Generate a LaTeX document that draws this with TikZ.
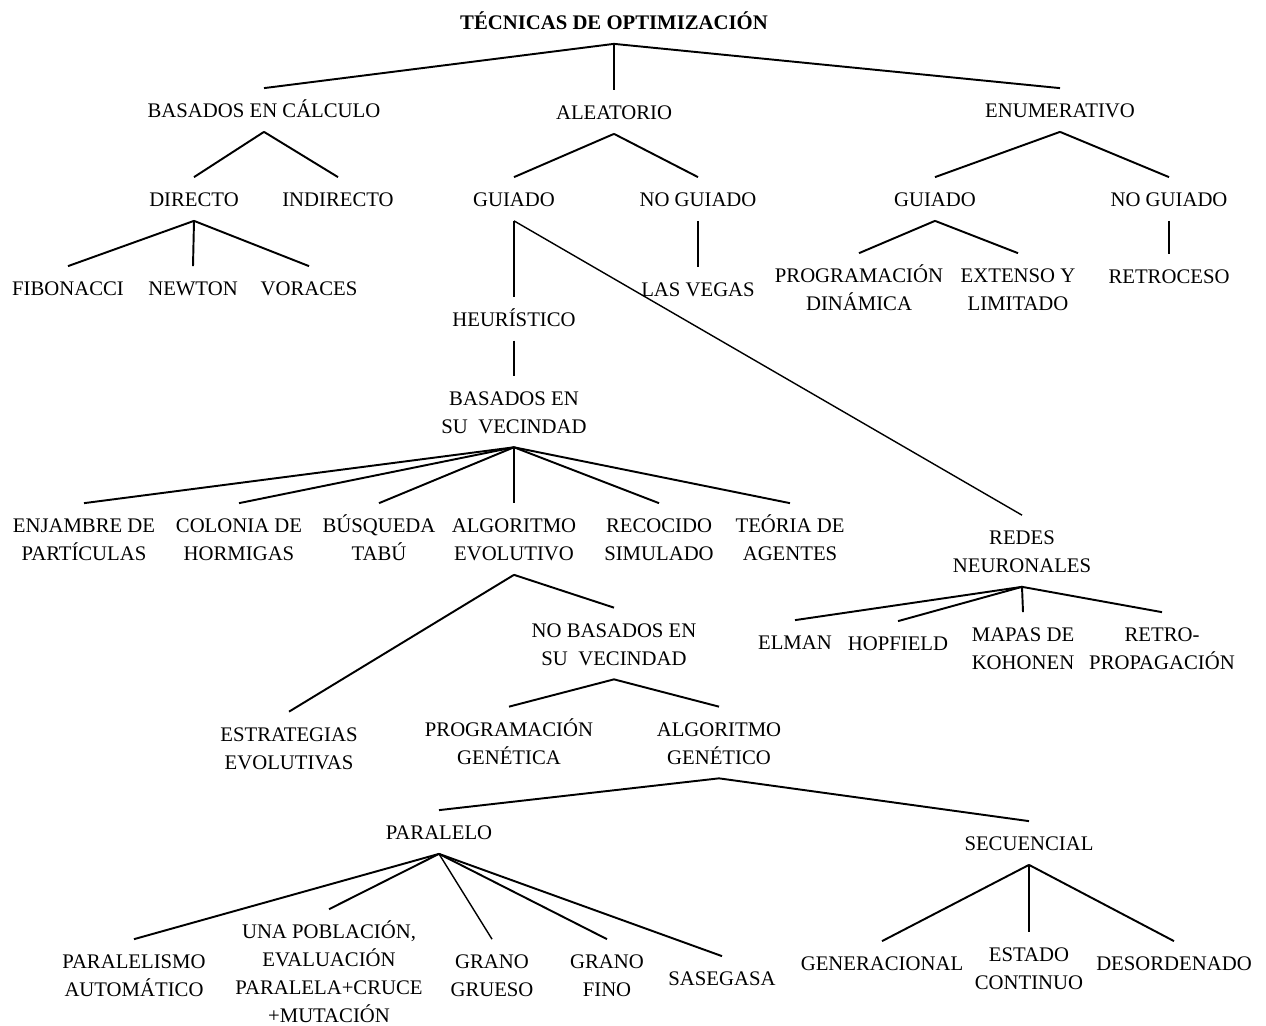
\documentclass[tikz,border=0pt]{standalone}
\usepackage{fontspec}
\setmainfont{Liberation Serif}
\usetikzlibrary{positioning}

\begin{document}
\begin{tikzpicture}[
    x=0.02cm, y=-0.02cm,
    term/.style={inner sep=0pt, align=center,
                 font=\fontsize{11.8}{15.9}\selectfont,
                 text height=16.6pt, text depth=7.9pt},
    term2/.style={term, text height=32.5pt},
    term4/.style={term, text height=64.3pt},
    rama/.style={line width=1.1pt},
    ramafina/.style={line width=0.8pt},
]
\useasboundingbox (0,0) rectangle (1266,1026);

% nivel 0 y 1
\node[term, font=\fontsize{11.8}{15.9}\selectfont\bfseries] (titulo) at (614,22) {TÉCNICAS DE OPTIMIZACIÓN};
\node[term] (calculo)   at (264,110)  {BASADOS EN CÁLCULO};
\node[term] (aleatorio) at (614,112)  {ALEATORIO};
\node[term] (enumer)    at (1060,110) {ENUMERATIVO};

% basados en calculo
\node[term] (directo)   at (194,199) {DIRECTO};
\node[term] (indirecto) at (338,199) {INDIRECTO};
\node[term] (fibonacci) at (68,288)  {FIBONACCI};
\node[term] (newton)    at (193,288) {NEWTON};
\node[term] (voraces)   at (309,288) {VORACES};

% aleatorio
\node[term] (guiado)   at (514,199) {GUIADO};
\node[term] (noguiado) at (698,199) {NO GUIADO};
\node[term, below=0.92cm of noguiado] (vegas)  {LAS VEGAS};
\node[term, below=1.52cm of guiado]   (heur)   {HEURÍSTICO};
\node[term2, below=0.7cm of heur]     (vecin)  {BASADOS EN\\SU~~VECINDAD};

\node[term2] (enjambre) at (84,539)  {ENJAMBRE DE\\PARTÍCULAS};
\node[term2] (colonia)  at (239,539) {COLONIA DE\\HORMIGAS};
\node[term2] (tabu)     at (379,539) {BÚSQUEDA\\TABÚ};
\node[term2] (evolut)   at (514,539) {ALGORITMO\\EVOLUTIVO};
\node[term2] (recocido) at (659,539) {RECOCIDO\\SIMULADO};
\node[term2] (agentes)  at (790,539) {TEÓRIA DE\\AGENTES};

\node[term2] (redes)    at (1022,551) {REDES\\NEURONALES};
\node[term]  (elman)    at (795,642)  {ELMAN};
\node[term]  (hopfield) at (898,643)  {HOPFIELD};
\node[term2] (kohonen)  at (1023,648) {MAPAS DE\\KOHONEN};
\node[term2] (retro)    at (1162,648) {RETRO-\\PROPAGACIÓN};

\node[term2] (nobasados) at (614,643.5) {NO BASADOS EN\\SU~~VECINDAD};
\node[term2] (estrat)    at (289,747.5) {ESTRATEGIAS\\EVOLUTIVAS};
\node[term2] (progen)    at (509,742.5) {PROGRAMACIÓN\\GENÉTICA};
\node[term2] (algen)     at (719,742.5) {ALGORITMO\\GENÉTICO};

\node[term] (paralelo)   at (439,832)  {PARALELO};
\node[term] (secuencial) at (1029,843) {SECUENCIAL};

\node[term2] (automatico) at (134,975) {PARALELISMO\\AUTOMÁTICO};
\node[term4] (poblacion)  at (329,973) {UNA POBLACIÓN,\\EVALUACIÓN\\PARALELA+CRUCE\\+MUTACIÓN};
\node[term2] (grueso)     at (492,975) {GRANO\\GRUESO};
\node[term2] (fino)       at (607,975) {GRANO\\FINO};
\node[term]  (sasegasa)   at (722,978) {SASEGASA};

\node[term]  (generacional) at (882,963)  {GENERACIONAL};
\node[term2, below=1.34cm of secuencial] (continuo) {ESTADO\\CONTINUO};
\node[term]  (desordenado)  at (1174,963) {DESORDENADO};

% enumerativo
\node[term] (eguiado)   at (935,199)  {GUIADO};
\node[term] (enoguiado) at (1169,199) {NO GUIADO};
\node[term2] (dinamica) at (859,289)  {PROGRAMACIÓN\\DINÁMICA};
\node[term2] (extenso)  at (1018,289) {EXTENSO Y\\LIMITADO};
\node[term, below=0.66cm of enoguiado] (retroceso) {RETROCESO};

% ramas
\draw[rama] (titulo.south) -- (calculo.north);
\draw[ramafina] (titulo.south) -- (aleatorio.north);
\draw[rama] (titulo.south) -- (enumer.north);

\draw[rama] (calculo.south) -- (directo.north);
\draw[rama] (calculo.south) -- (indirecto.north);
\draw[rama] (directo.south) -- (fibonacci.north);
\draw[rama] (directo.south) -- (newton.north);
\draw[rama] (directo.south) -- (voraces.north);

\draw[rama] (aleatorio.south) -- (guiado.north);
\draw[rama] (aleatorio.south) -- (noguiado.north);
\draw[rama] (noguiado.south) -- (vegas.north);
\draw[rama] (guiado.south) -- (heur.north);
\draw[ramafina] (guiado.south) -- (redes.north);
\draw[rama] (heur.south) -- (vecin.north);

\draw[rama] (vecin.south) -- (enjambre.north);
\draw[rama] (vecin.south) -- (colonia.north);
\draw[rama] (vecin.south) -- (tabu.north);
\draw[rama] (vecin.south) -- (evolut.north);
\draw[rama] (vecin.south) -- (recocido.north);
\draw[rama] (vecin.south) -- (agentes.north);

\draw[rama] (redes.south) -- (elman.north);
\draw[rama] (redes.south) -- (hopfield.north);
\draw[rama] (redes.south) -- (kohonen.north);
\draw[rama] (redes.south) -- (retro.north);

\draw[rama] (evolut.south) -- (estrat.north);
\draw[rama] (evolut.south) -- (nobasados.north);
\draw[rama] (nobasados.south) -- (progen.north);
\draw[rama] (nobasados.south) -- (algen.north);

\draw[rama] (algen.south) -- (paralelo.north);
\draw[rama] (algen.south) -- (secuencial.north);

\draw[rama] (paralelo.south) -- (automatico.north);
\draw[rama] (paralelo.south) -- (poblacion.north);
\draw[ramafina] (paralelo.south) -- (grueso.north);
\draw[rama] (paralelo.south) -- (fino.north);
\draw[rama] (paralelo.south) -- (sasegasa.north);

\draw[rama] (secuencial.south) -- (generacional.north);
\draw[rama] (secuencial.south) -- (continuo.north);
\draw[rama] (secuencial.south) -- (desordenado.north);

\draw[rama] (enumer.south) -- (eguiado.north);
\draw[rama] (enumer.south) -- (enoguiado.north);
\draw[rama] (eguiado.south) -- (dinamica.north);
\draw[rama] (eguiado.south) -- (extenso.north);
\draw[rama] (enoguiado.south) -- (retroceso.north);
\end{tikzpicture}
\end{document}
